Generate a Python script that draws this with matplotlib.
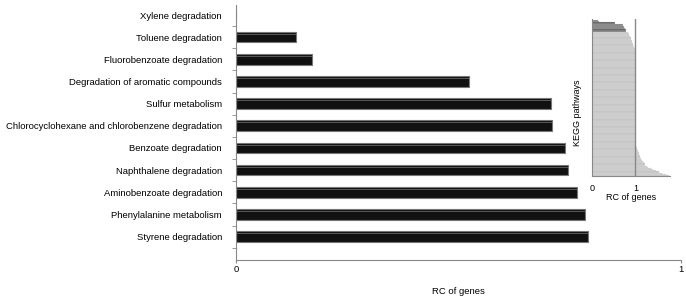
import matplotlib.pyplot as plt
import numpy as np

plt.rcParams['font.family'] = ['Liberation Sans', 'DejaVu Sans']

# main chart data (bottom to top)
pathways = ['Styrene degradation', 'Phenylalanine metabolism', 'Aminobenzoate degradation',
            'Naphthalene degradation', 'Benzoate degradation',
            'Chlorocyclohexane and chlorobenzene degradation', 'Sulfur metabolism',
            'Degradation of aromatic compounds', 'Fluorobenzoate degradation',
            'Toluene degradation', 'Xylene degradation']
rc_values = [0.791, 0.784, 0.766, 0.746, 0.739, 0.710, 0.708, 0.524, 0.171, 0.135, 0.0]

# inset: all KEGG pathways, top to bottom
inset_dark = [0.0, 0.135, 0.171, 0.524, 0.708, 0.710, 0.739, 0.746, 0.766, 0.784, 0.791]
inset_light = [0.82, 0.84, 0.85, 0.86, 0.88, 0.89, 0.90, 0.91, 0.92, 0.93, 0.94, 0.95, 0.96, 0.97, 0.98,
               0.99, 0.99, 0.99, 0.99, 0.99, 0.99, 0.99, 0.99, 0.99, 0.99, 0.99, 0.99, 0.99, 0.99,
               0.99, 0.99, 0.99, 0.99, 0.99, 0.99, 0.99, 0.99, 0.99, 0.99, 1.00, 1.00, 1.00, 1.00,
               1.00, 1.00, 1.00, 1.00, 1.00, 1.00, 1.00, 1.00, 1.00, 1.00, 1.00, 1.00, 1.00, 1.00,
               1.00, 1.00, 1.00, 1.00, 1.00, 1.00, 1.00, 1.00, 1.00, 1.00, 1.00, 1.00, 1.00, 1.00,
               1.00, 1.00, 1.00, 1.00, 1.00, 1.00, 1.00, 1.00, 1.00, 1.00, 1.00, 1.00, 1.00, 1.00,
               1.00, 1.00, 1.00, 1.00, 1.00, 1.00, 1.00, 1.00, 1.00, 1.00, 1.00, 1.00, 1.00,
               1.01, 1.02, 1.03, 1.04, 1.05, 1.06, 1.07, 1.08, 1.09, 1.10, 1.11, 1.12, 1.13, 1.15,
               1.17, 1.19, 1.21, 1.23, 1.26, 1.30, 1.35, 1.40, 1.47, 1.55, 1.62, 1.70, 1.78]

fig = plt.figure(figsize=(6.86, 2.96), dpi=100)

# main bar chart
ax = fig.add_axes([0.344, 0.122, 0.649, 0.861])
y = np.arange(len(pathways))
ax.barh(y, rc_values, height=0.48, color='#111111', edgecolor='#777777', linewidth=0.8)
# light highlight along the top of each bar
ax.barh(y + 0.13, rc_values, height=0.04, color='#555555', linewidth=0)
ax.set_xlim(0, 1)
ax.set_ylim(-1.05, 10.45)
ax.set_yticks(y)
ax.set_yticklabels(pathways, fontsize=6.8)
ax.tick_params(axis='y', length=0, pad=10)
ax.set_yticks(np.arange(-0.5, 10.5, 1), minor=True)
ax.tick_params(axis='y', which='minor', length=3, color='#888888', direction='out')
ax.set_xticks([0, 1])
ax.set_xticklabels(['0', '1'], fontsize=6.8)
ax.tick_params(axis='x', length=2, color='#888888', pad=2)
ax.set_xlabel('RC of genes', fontsize=6.8, labelpad=9)
for s in ['top', 'right']:
    ax.spines[s].set_visible(False)
for s in ['left', 'bottom']:
    ax.spines[s].set_color('#888888')
    ax.spines[s].set_linewidth(0.8)

# inset with all pathways
ins = fig.add_axes([0.863, 0.405, 0.114, 0.531])
all_vals = inset_dark + inset_light
colors = ['#5a5a5a'] * len(inset_dark) + ['#c2c2c2'] * len(inset_light)
yi = np.arange(len(all_vals))
ins.barh(yi, all_vals, height=1.0, color=colors, edgecolor='#e0e0e0', linewidth=0.2)
ins.axvline(1, color='#888888', linewidth=1)
ins.set_xlim(0, 1.8)
ins.set_ylim(len(all_vals) - 0.5, -0.5)
ins.set_yticks([])
ins.set_xticks([0, 1])
ins.set_xticklabels(['0', '1'], fontsize=6.5)
ins.tick_params(axis='x', length=0, pad=6)
ins.set_xlabel('RC of genes', fontsize=6.5, labelpad=0)
ins.set_ylabel('KEGG pathways', fontsize=6.5)
ins.yaxis.set_label_coords(-0.13, 0.4)
for s in ['top', 'right']:
    ins.spines[s].set_visible(False)
for s in ['left', 'bottom']:
    ins.spines[s].set_color('#888888')
    ins.spines[s].set_linewidth(0.8)

fig.savefig('out.png', dpi=100)
